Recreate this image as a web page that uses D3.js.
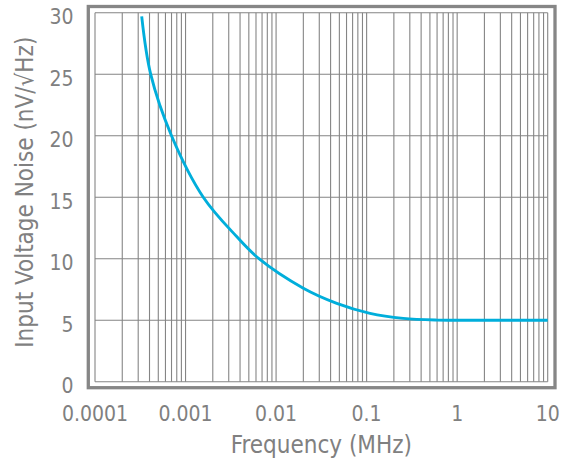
<!DOCTYPE html>
<html>
<head>
<meta charset="utf-8">
<script src="https://cdn.jsdelivr.net/npm/d3@7"></script>
<style>
  html, body { margin: 0; padding: 0; background: #fff; }
  svg text { font-family: Tahoma, "DejaVu Sans Condensed", "DejaVu Sans", sans-serif; font-stretch: condensed; fill: #808080; }
</style>
</head>
<body>
<svg id="chart" width="566" height="460"></svg>
<script>
// ---- data ----
const frequencyMHz = [0.000328, 0.000412, 0.0007, 0.00157, 0.00367, 0.00647, 0.02, 0.0468, 0.109, 0.254, 0.6, 1, 10];
const noiseNV      = [29.7,     25.0,     20.0,   15.0,    11.8,    10.0,    7.6,  6.37,   5.56,  5.15,  5.01, 5.0, 5.0];
const xTickValues = [0.0001, 0.001, 0.01, 0.1, 1, 10];
const xTickLabels = ["0.0001", "0.001", "0.01", "0.1", "1", "10"];
const yTickValues = [0, 5, 10, 15, 20, 25, 30];
const xTitle = "Frequency (MHz)";
const yTitle = "Input Voltage Noise (nV/\u221AHz)";

const svg = d3.select("#chart");
const pLeft = 95, pRight = 547.7, pTop = 12.7, pBottom = 381.7;

const x = d3.scaleLog().domain([0.0001, 10]).range([pLeft, pRight]);
const y = d3.scaleLinear().domain([0, 30]).range([pBottom, pTop]);

// outer frame
svg.append("rect")
  .attr("x", 88.3).attr("y", 6.5)
  .attr("width", 555 - 88.3).attr("height", 387.7 - 6.5)
  .attr("fill", "none").attr("stroke", "#868686").attr("stroke-width", 3.3);

// vertical grid (log minor + major)
const minor = [];
for (let d = -4; d < 1; d++) for (let m = 1; m <= 9; m++) minor.push(m * Math.pow(10, d));
minor.push(10);
svg.append("g").selectAll("line").data(minor).join("line")
  .attr("x1", d => x(d)).attr("x2", d => x(d))
  .attr("y1", pTop).attr("y2", pBottom)
  .attr("stroke", "#858585").attr("stroke-width", 1.1);

// horizontal grid
svg.append("g").selectAll("line").data(yTickValues).join("line")
  .attr("x1", pLeft).attr("x2", pRight)
  .attr("y1", d => y(d)).attr("y2", d => y(d))
  .attr("stroke", "#858585").attr("stroke-width", 1.1);

// y tick labels
svg.append("g").selectAll("text").data(yTickValues).join("text")
  .attr("x", 73.5).attr("y", d => y(d) + 11.5)
  .attr("text-anchor", "end").style("font-size", "21px")
  .text(d => d);

// x tick labels
svg.append("g").selectAll("text").data(xTickValues).join("text")
  .attr("x", d => x(d)).attr("y", 421)
  .attr("text-anchor", "middle").style("font-size", "21px")
  .text((d, i) => xTickLabels[i]);

// titles
svg.append("text")
  .attr("x", (pLeft + pRight) / 2).attr("y", 453)
  .attr("text-anchor", "middle").style("font-size", "24px")
  .text(xTitle);
svg.append("text")
  .attr("transform", `translate(33,${(pTop + pBottom) / 2 - 5}) rotate(-90)`)
  .attr("text-anchor", "middle").style("font-size", "24px")
  .text(yTitle);

// curve
const pts = frequencyMHz.map((f, i) => [f, noiseNV[i]]);
svg.append("path")
  .datum(pts)
  .attr("fill", "none").attr("stroke", "#00AEDB").attr("stroke-width", 2.9)
  .attr("stroke-linecap", "butt")
  .attr("d", d3.line().x(d => x(d[0])).y(d => y(d[1])).curve(d3.curveCatmullRom.alpha(0.5)));
</script>
</body>
</html>
